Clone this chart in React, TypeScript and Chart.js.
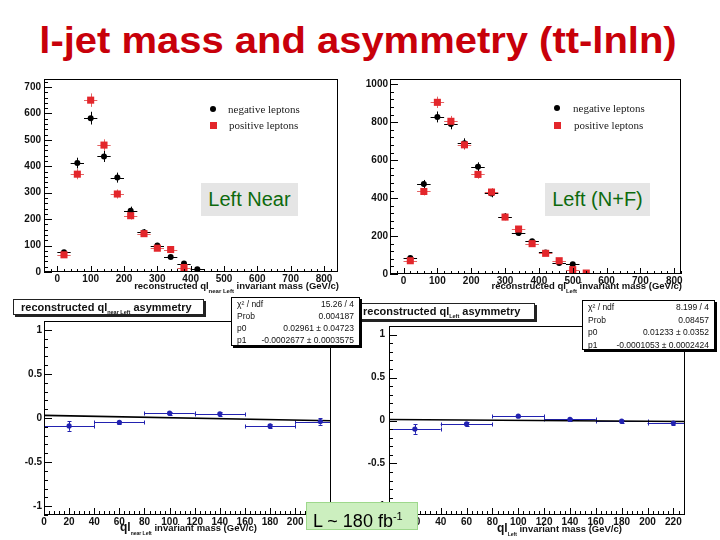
import React, { useEffect, useRef } from "react";
import { Chart, registerables } from "chart.js";
Chart.register(...registerables);

// ---------------- data ----------------
const seriesLabels = ["negative leptons", "positive leptons"];

const nearMassBins = [20, 60, 100, 140, 180, 220, 260, 300, 340, 380, 420];
const nearNegative = [75, 412, 582, 437, 357, 232, 150, 100, 57, 32, 10];
const nearPositive = [65, 370, 650, 480, 295, 213, 145, 90, 85, 17];

const leftMassBins = [20, 60, 100, 140, 180, 220, 260, 300, 340, 380, 420, 460, 500, 540];
const leftNegative = [84, 474, 828, 791, 689, 565, 425, 303, 216, 172, 114, 58, 51, 4];
const leftPositive = [70, 435, 905, 805, 681, 525, 432, 300, 237, 160, 109, 70, 23, 5];

const asymBins = [20, 60, 100, 140, 180, 220];
const nearAsym = [-0.09, -0.05, 0.055, 0.047, -0.09, -0.04];
const nearAsymErr = [0.055, 0.02, 0.018, 0.022, 0.025, 0.035];
const leftAsym = [-0.1, -0.04, 0.05, 0.012, -0.008, -0.03];
const leftAsymErr = [0.055, 0.02, 0.012, 0.012, 0.017, 0.02];

const binHalfWidth = 20;
const nearFit = [0.02961, -0.0002677]; // p0, p1
const leftFit = [0.01233, -0.0001053];

const massTicks = [0, 100, 200, 300, 400, 500, 600, 700, 800];
const nearCountTicks = [0, 100, 200, 300, 400, 500, 600, 700];
const leftCountTicks = [0, 200, 400, 600, 800, 1000];
const asymXTicks = [0, 20, 40, 60, 80, 100, 120, 140, 160, 180, 200, 220];
const asymYTicks = [-1, -0.5, 0, 0.5, 1];

const nearStats = [
  ["χ² / ndf", "15.26 / 4"],
  ["Prob", "0.004187"],
  ["p0", "0.02961 ± 0.04723"],
  ["p1", "-0.0002677 ± 0.0003575"],
];
const leftStats = [
  ["χ² / ndf", "8.199 / 4"],
  ["Prob", "0.08457"],
  ["p0", "0.01233 ± 0.0352"],
  ["p1", "-0.0001053 ± 0.0002424"],
];

// ---------------- styles ----------------
const SANS = "'Liberation Sans', Arial, Helvetica, sans-serif";
const SERIF = "'Liberation Serif', 'Times New Roman', serif";
const BLACK = "#111111";
const RED = "#e3262b";
const RED_ERR = "#e46464";
const BLUE = "#2222b0";
const PAD = 4;

// plugin: ROOT-like frame, inward ticks and error bars
const rootStyle = {
  id: "rootStyle",
  beforeDatasetsDraw(chart: any) {
    const { ctx, chartArea: a, scales } = chart;
    const xs = scales.x, ys = scales.y;
    ctx.save();
    ctx.beginPath();
    ctx.rect(a.left, a.top, a.right - a.left, a.bottom - a.top);
    ctx.clip();
    chart.data.datasets.forEach((ds: any) => {
      if (!ds.errY) return;
      ctx.strokeStyle = ds.errColor;
      ctx.lineWidth = 1;
      const cap = ds.errCap || 0;
      ds.data.forEach((p: any, j: number) => {
        const px = xs.getPixelForValue(p.x);
        const py = ys.getPixelForValue(p.y);
        const x0 = xs.getPixelForValue(p.x - ds.errX);
        const x1 = xs.getPixelForValue(p.x + ds.errX);
        const e = ds.errY[j];
        const y0 = ys.getPixelForValue(p.y - e);
        const y1 = ys.getPixelForValue(p.y + e);
        const cy = Math.round(py) + 0.5;
        const cx = Math.round(px) + 0.5;
        ctx.beginPath();
        ctx.moveTo(x0, cy);
        ctx.lineTo(x1, cy);
        ctx.moveTo(cx, y0);
        ctx.lineTo(cx, y1);
        if (cap) {
          ctx.moveTo(cx - cap, Math.round(y0) + 0.5);
          ctx.lineTo(cx + cap, Math.round(y0) + 0.5);
          ctx.moveTo(cx - cap, Math.round(y1) + 0.5);
          ctx.lineTo(cx + cap, Math.round(y1) + 0.5);
          ctx.moveTo(Math.round(x0) + 0.5, cy - cap);
          ctx.lineTo(Math.round(x0) + 0.5, cy + cap);
          ctx.moveTo(Math.round(x1) + 0.5, cy - cap);
          ctx.lineTo(Math.round(x1) + 0.5, cy + cap);
        }
        ctx.stroke();
      });
    });
    ctx.restore();
  },
  afterDraw(chart: any, _args: any, opts: any) {
    const { ctx, chartArea: a, scales } = chart;
    const xs = scales.x, ys = scales.y;
    ctx.save();
    ctx.strokeStyle = "#000";
    ctx.lineWidth = 1;
    ctx.strokeRect(Math.round(a.left) + 0.5, Math.round(a.top) + 0.5,
      Math.round(a.right - a.left) - 1, Math.round(a.bottom - a.top) - 1);
    ctx.beginPath();
    const isMajor = (v: number, m: number) => Math.abs(v / m - Math.round(v / m)) < 1e-6;
    let start = Math.ceil(xs.min / opts.xMinor - 1e-9) * opts.xMinor;
    for (let v = start; v <= xs.max + 1e-9; v += opts.xMinor) {
      const px = Math.round(xs.getPixelForValue(v)) + 0.5;
      const len = isMajor(v, opts.xMajor) ? opts.xMajorLen : opts.xMinorLen;
      ctx.moveTo(px, a.bottom);
      ctx.lineTo(px, a.bottom - len);
    }
    start = Math.ceil(ys.min / opts.yMinor - 1e-9) * opts.yMinor;
    for (let v = start; v <= ys.max + 1e-9; v += opts.yMinor) {
      const py = Math.round(ys.getPixelForValue(v)) + 0.5;
      const len = isMajor(v, opts.yMajor) ? opts.yMajorLen : opts.yMinorLen;
      ctx.moveTo(a.left, py);
      ctx.lineTo(a.left + len, py);
    }
    ctx.stroke();
    ctx.restore();
  },
};

type Spec = {
  frame: [number, number, number, number];
  yAxisW: number;
  xAxisH: number;
  x: [number, number];
  y: [number, number];
  xTicks: number[];
  yTicks: number[];
  yPad: number;
  xPad: number;
  style: any;
  datasets: any[];
};

function makeConfig(s: Spec): any {
  const tickFont = { family: SANS, size: 10, weight: "bold" as const };
  return {
    type: "scatter",
    data: { datasets: s.datasets },
    options: {
      animation: false,
      responsive: false,
      events: [],
      layout: { padding: { top: PAD, right: PAD, left: 0, bottom: 0 } },
      plugins: { legend: { display: false }, tooltip: { enabled: false }, rootStyle: s.style },
      scales: {
        x: {
          type: "linear",
          min: s.x[0],
          max: s.x[1],
          grid: { display: false, drawTicks: false },
          border: { display: false },
          ticks: {
            font: tickFont, color: BLACK, padding: s.xPad, autoSkip: false, maxRotation: 0,
            callback: (v: number) => String(v),
          },
          afterBuildTicks: (sc: any) => { sc.ticks = s.xTicks.map((v) => ({ value: v })); },
          afterFit: (sc: any) => { sc.height = s.xAxisH; sc.paddingLeft = 0; sc.paddingRight = 0; },
        },
        y: {
          type: "linear",
          min: s.y[0],
          max: s.y[1],
          grid: { display: false, drawTicks: false },
          border: { display: false },
          ticks: {
            font: tickFont, color: BLACK, padding: s.yPad, autoSkip: false,
            callback: (v: number) => String(v),
          },
          afterBuildTicks: (sc: any) => { sc.ticks = s.yTicks.map((v) => ({ value: v })); },
          afterFit: (sc: any) => { sc.width = s.yAxisW; sc.paddingTop = 0; sc.paddingBottom = 0; },
        },
      },
    },
    plugins: [rootStyle],
  };
}

function Panel({ spec }: { spec: Spec }) {
  const ref = useRef<HTMLCanvasElement>(null);
  const [L, T, R, B] = spec.frame;
  const left = L - spec.yAxisW;
  const top = T - PAD;
  const w = spec.yAxisW + (R - L) + PAD;
  const h = PAD + (B - T) + spec.xAxisH;
  useEffect(() => {
    const chart = new Chart(ref.current as HTMLCanvasElement, makeConfig(spec));
    return () => chart.destroy();
  }, []);
  return (
    <canvas ref={ref} width={w} height={h}
      style={{ position: "absolute", left, top, width: w, height: h }} />
  );
}

const pts = (xs: number[], ys: number[]) => ys.map((y, i) => ({ x: xs[i], y }));
const fitLine = (f: number[], x0: number, x1: number) => [
  { x: x0, y: f[0] + f[1] * x0 },
  { x: x1, y: f[0] + f[1] * x1 },
];

const massStyle = (yMajor: number, yMinor: number) => ({
  xMajor: 100, xMinor: 20, xMajorLen: 6, xMinorLen: 3,
  yMajor, yMinor, yMajorLen: 8, yMinorLen: 4,
});
const asymStyle = {
  xMajor: 20, xMinor: 4, xMajorLen: 7, xMinorLen: 4,
  yMajor: 0.5, yMinor: 0.1, yMajorLen: 8, yMinorLen: 4,
};

const massSets = (xs: number[], neg: number[], pos: number[]) => [
  {
    label: seriesLabels[1], data: pts(xs, pos), pointStyle: "rect", pointRadius: 5,
    backgroundColor: RED, borderColor: RED, borderWidth: 0, showLine: false, order: 0,
    errX: binHalfWidth, errY: pos.map((v) => Math.sqrt(v)), errColor: RED_ERR,
  },
  {
    label: seriesLabels[0], data: pts(xs, neg), pointStyle: "circle", pointRadius: 3,
    backgroundColor: "#000", borderColor: "#000", borderWidth: 0, showLine: false, order: 1,
    errX: binHalfWidth, errY: neg.map((v) => Math.sqrt(v)), errColor: "#000",
  },
];

const asymSets = (vals: number[], errs: number[], fit: number[], xMax: number) => [
  {
    label: "asymmetry", data: pts(asymBins, vals), pointStyle: "circle", pointRadius: 2.6,
    backgroundColor: BLUE, borderColor: BLUE, borderWidth: 0, showLine: false, order: 0,
    errX: binHalfWidth, errY: errs, errColor: BLUE, errCap: 2,
  },
  {
    type: "line", label: "fit", data: fitLine(fit, 0, xMax), borderColor: "#000",
    borderWidth: 1.6, pointRadius: 0, showLine: true, fill: false, order: 1,
  },
];

const specTL: Spec = {
  frame: [44, 78, 339, 272], yAxisW: 40, xAxisH: 14, x: [-40, 842], y: [0, 730],
  xTicks: massTicks, yTicks: nearCountTicks, yPad: 3, xPad: 1,
  style: massStyle(100, 20), datasets: massSets(nearMassBins, nearNegative, nearPositive),
};
const specTR: Spec = {
  frame: [390, 78, 682, 274], yAxisW: 40, xAxisH: 14, x: [-40, 820], y: [0, 1028],
  xTicks: massTicks, yTicks: leftCountTicks, yPad: 2, xPad: 1,
  style: massStyle(200, 40), datasets: massSets(leftMassBins, leftNegative, leftPositive),
};
const specBL: Spec = {
  frame: [44, 321, 331, 515], yAxisW: 40, xAxisH: 14, x: [0, 228.5], y: [-1.1, 1.1],
  xTicks: asymXTicks, yTicks: asymYTicks, yPad: 2, xPad: 1,
  style: asymStyle, datasets: asymSets(nearAsym, nearAsymErr, nearFit, 228.5),
};
const specBR: Spec = {
  frame: [389, 326, 685, 515], yAxisW: 40, xAxisH: 14, x: [0, 229], y: [-1.1, 1.1],
  xTicks: asymXTicks, yTicks: asymYTicks, yPad: 4, xPad: 1,
  style: asymStyle, datasets: asymSets(leftAsym, leftAsymErr, leftFit, 229),
};

// ---------------- overlays ----------------
const abs = (left: number, top: number, extra: any = {}) => ({ position: "absolute" as const, left, top, ...extra });

function StatsBox({ left, top, width, height, rows, step }: any) {
  return (
    <div style={abs(left, top, {
      width, height, boxSizing: "border-box", border: "1px solid #000", background: "#fff",
      boxShadow: "2px 2px 0 #000", fontFamily: SANS, fontSize: 8.5, color: BLACK,
    })}>
      {rows.map((r: string[], i: number) => (
        <div key={i} style={abs(0, i * step, { width: width - 2, height: 12, lineHeight: "12px" })}>
          <span style={{ position: "absolute", left: 5 }}>{r[0]}</span>
          <span style={{ position: "absolute", right: 5 }}>{r[1]}</span>
        </div>
      ))}
    </div>
  );
}

function TitleBox({ left, top, width, height, sub, textLeft }: any) {
  return (
    <div style={abs(left, top, {
      width, height, boxSizing: "border-box", border: "1px solid #222", background: "#fff",
      boxShadow: "2px 2px 0 #222", fontFamily: SANS, fontWeight: "bold", fontSize: 11,
      lineHeight: `${height - 2}px`, whiteSpace: "nowrap", color: BLACK,
    })}>
      <span style={{ position: "absolute", left: textLeft }}>
        reconstructed ql<sub style={{ fontSize: 5.5, verticalAlign: -3 }}>{sub}</sub> asymmetry
      </span>
    </div>
  );
}

function Legend({ x, y1, y2, textX }: any) {
  const txt = (top: number, left: number, label: string) => (
    <div style={abs(left, top - 6, { fontFamily: SERIF, fontSize: 11, lineHeight: "12px", color: "#222", whiteSpace: "nowrap" })}>{label}</div>
  );
  return (
    <>
      <div style={abs(x - 3, y1 - 3, { width: 6, height: 6, borderRadius: 3, background: "#000" })} />
      {txt(y1, textX, seriesLabels[0])}
      <div style={abs(x - 3.5, y2 - 3.5, { width: 7, height: 7, background: RED })} />
      {txt(y2, textX + 1, seriesLabels[1])}
    </>
  );
}

function Tag({ left, top, width, height, text }: any) {
  return (
    <div style={abs(left, top, {
      width, height, background: "#e5e5e5", color: "#0d6a0d", fontFamily: SANS, fontSize: 20,
      lineHeight: `${height}px`, textAlign: "center", whiteSpace: "nowrap",
    })}>{text}</div>
  );
}

const massTitle = (sub: string) => (
  <>reconstructed ql<sub style={{ fontSize: 6, verticalAlign: -4 }}>{sub}</sub> invariant mass (GeV/c)</>
);
const asymTitle = (sub: string) => (
  <><span style={{ fontSize: 12 }}>ql</span><sub style={{ fontSize: 5, verticalAlign: -4 }}>{sub}</sub> invariant mass (GeV/c)</>
);

export default function App() {
  useEffect(() => { document.body.style.margin = "0"; }, []);
  const axisTitle = { fontFamily: SANS, fontWeight: "bold", fontSize: 9.5, color: BLACK, whiteSpace: "nowrap" as const, lineHeight: "11px" };
  return (
    <div style={{ position: "absolute", left: 0, top: 0, width: 720, height: 540, background: "#fff", overflow: "hidden" }}>
      <div style={abs(0, 23, {
        width: 716, textAlign: "center", fontFamily: SANS, fontWeight: "bold", fontSize: 36,
        lineHeight: "36px", color: "#c8000a", whiteSpace: "nowrap",
        transform: "scaleX(1.11)", transformOrigin: "358px 50%",
      })}>l-jet mass and asymmetry (tt-lnln)</div>

      <Panel spec={specTL} />
      <Panel spec={specTR} />
      <Panel spec={specBL} />
      <Panel spec={specBR} />

      <div style={abs(0, 280, { ...axisTitle, width: 339, textAlign: "right" })}>{massTitle("near Left")}</div>
      <div style={abs(0, 280, { ...axisTitle, width: 682, textAlign: "right" })}>{massTitle("Left")}</div>
      <div style={abs(120, 522, axisTitle)}>{asymTitle("near Left")}</div>
      <div style={abs(497, 523, axisTitle)}>{asymTitle("Left")}</div>

      <Legend x={213} y1={109} y2={125} textX={228} />
      <Legend x={557} y1={108} y2={125} textX={573} />

      <Tag left={201} top={183} width={97} height={33} text="Left Near" />
      <Tag left={545} top={183} width={105} height={33} text="Left (N+F)" />

      <TitleBox left={356} top={303} width={179} height={17} sub="Left" textLeft={6} />
      <TitleBox left={13} top={299} width={191} height={16} sub="near Left" textLeft={7} />
      <StatsBox left={231} top={297} width={129} height={49} rows={nearStats} step={12} />
      <StatsBox left={582} top={300} width={133} height={50} rows={leftStats} step={12.5} />

      <div style={abs(306, 502, {
        width: 112, height: 28, boxSizing: "border-box", background: "#ccefbf", border: "1px solid #9ed88c",
        fontFamily: SANS, fontSize: 18, lineHeight: "26px", color: "#000", paddingLeft: 6, whiteSpace: "nowrap",
      })}>L ~ 180 fb<sup style={{ fontSize: 11, verticalAlign: 7 }}>-1</sup></div>
    </div>
  );
}
